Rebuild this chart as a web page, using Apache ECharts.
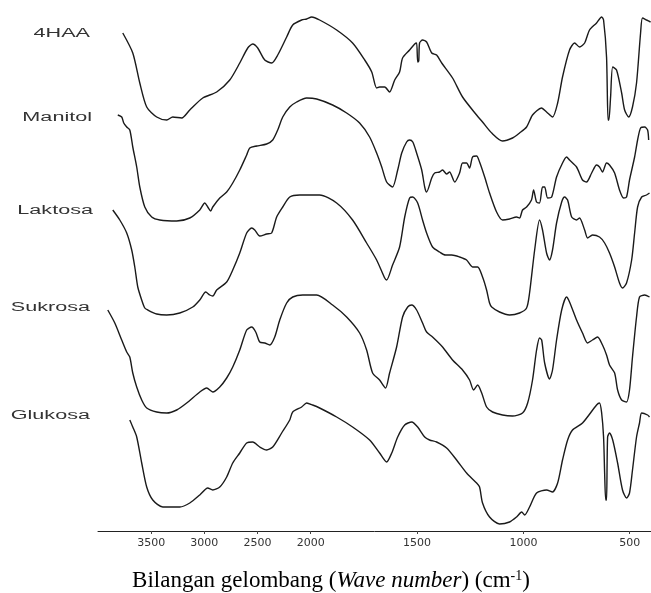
<!DOCTYPE html>
<html>
<head>
<meta charset="utf-8">
<script src="https://cdn.jsdelivr.net/npm/echarts@6/dist/echarts.min.js"></script>
<style>
html,body{margin:0;padding:0;background:#fff;}
#chart{width:651px;height:593px;}
</style>
</head>
<body>
<div id="chart"></div>
<script>
// Sample names (labels at left of each trace)
const sampleNames = ['4HAA', 'Manitol', 'Laktosa', 'Sukrosa', 'Glukosa'];
// x-axis tick labels (wavenumber, cm-1)
const tickWaves = [3500, 3000, 2500, 2000, 1500, 1000, 500];
const axisTitleParts = ['Bilangan gelombang (', 'Wave number', ') (cm', '-1', ')'];

// Traces: [wavenumber (cm-1), offset transmittance (arbitrary units)]
const trace4HAA = [
  [3767,498],[3673,478],[3607,448],[3542,424],[3448,414],[3354,411],[3297,414],[3213,413],
  [3137,421],[3015,433],[2884,439],[2761,451],[2667,468],[2592,483],[2545,487],[2498,483],
  [2432,471],[2367,468],[2310,476],[2226,494],[2169,506],[2085,511],[2038,512],[1995,514],
  [1958,511],[1878,501],[1803,488],[1746,471],[1713,459],[1690,443],[1676,444],[1652,444],
  [1629,439],[1605,451],[1582,459],[1568,473],[1535,481],[1511,487],[1502,488],[1497,469],
  [1492,470],[1488,488],[1474,491],[1455,489],[1431,478],[1408,476],[1384,468],[1333,453],
  [1286,434],[1220,416],[1192,409],[1149,398],[1098,390],[1051,393],[1018,398],[985,404],
  [957,416],[915,423],[891,419],[863,414],[839,428],[816,454],[783,481],[759,488],[736,484],
  [712,488],[689,501],[656,508],[632,514],[623,511],[609,474],[602,411],[598,411],[590,434],
  [580,464],[562,461],[538,438],[524,421],[505,414],[487,424],[468,448],[449,498],[440,513],
  [421,511],[402,509]
];
const traceManitol = [
  [3814,416],[3777,414],[3758,408],[3730,404],[3701,401],[3673,384],[3636,364],[3607,344],
  [3560,324],[3495,314],[3419,311],[3260,310],[3137,313],[3043,321],[2996,328],[2968,324],
  [2940,320],[2921,324],[2855,333],[2790,339],[2733,348],[2667,361],[2602,376],[2573,383],
  [2508,385],[2414,387],[2357,391],[2310,401],[2263,414],[2197,424],[2132,429],[2038,433],
  [1972,432],[1897,426],[1831,418],[1770,408],[1723,394],[1690,378],[1666,364],[1643,349],
  [1615,344],[1591,361],[1572,378],[1549,389],[1535,391],[1520,389],[1502,378],[1478,361],
  [1464,344],[1455,339],[1431,353],[1417,358],[1394,359],[1380,361],[1361,357],[1347,359],
  [1323,349],[1300,358],[1286,368],[1267,368],[1253,363],[1239,374],[1220,375],[1206,369],
  [1182,354],[1159,338],[1126,319],[1098,311],[1065,312],[1032,314],[1018,313],[1004,321],
  [985,324],[962,331],[952,341],[938,329],[924,328],[910,344],[900,344],[886,333],[867,334],
  [844,354],[816,368],[797,374],[783,371],[750,364],[722,351],[703,349],[679,358],[656,366],
  [642,364],[628,359],[609,368],[595,366],[571,358],[548,341],[529,333],[515,334],[501,351],
  [477,374],[463,391],[449,403],[430,404],[416,401],[411,391]
];
const traceLaktosa = [
  [3861,321],[3795,311],[3730,298],[3683,281],[3654,264],[3626,244],[3589,231],[3560,223],
  [3532,221],[3448,217],[3354,216],[3231,218],[3109,224],[3043,231],[2987,239],[2949,236],
  [2921,235],[2884,241],[2790,249],[2733,261],[2667,278],[2602,298],[2555,303],[2526,301],
  [2479,295],[2414,297],[2367,298],[2320,314],[2263,324],[2197,334],[2103,336],[1958,336],
  [1878,328],[1803,311],[1737,288],[1690,271],[1652,253],[1643,251],[1615,266],[1582,284],
  [1558,314],[1535,333],[1520,334],[1497,328],[1474,311],[1455,298],[1427,284],[1394,279],
  [1366,276],[1337,276],[1300,274],[1267,271],[1239,264],[1215,264],[1192,254],[1173,241],
  [1159,228],[1149,224],[1112,219],[1065,216],[1018,218],[985,223],[971,238],[947,281],
  [924,311],[910,301],[891,278],[877,271],[863,281],[844,308],[820,329],[806,334],[792,331],
  [773,314],[750,311],[736,313],[712,301],[698,293],[675,296],[642,294],[618,288],[595,278],
  [571,264],[548,248],[534,243],[515,248],[491,271],[477,298],[463,324],[444,334],[421,336],
  [407,338]
];
const traceSukrosa = [
  [3908,221],[3842,208],[3777,191],[3730,179],[3701,174],[3673,158],[3636,144],[3589,131],
  [3542,123],[3448,119],[3354,118],[3260,121],[3166,128],[3043,139],[2978,143],[2921,139],
  [2855,144],[2790,153],[2733,164],[2667,181],[2602,201],[2555,204],[2517,199],[2479,189],
  [2432,188],[2385,186],[2338,194],[2291,211],[2226,228],[2169,234],[2075,236],[1972,236],
  [1897,226],[1831,214],[1770,198],[1737,181],[1709,158],[1676,151],[1648,143],[1629,158],
  [1596,184],[1568,214],[1544,224],[1525,226],[1502,221],[1474,208],[1455,199],[1427,194],
  [1380,184],[1333,171],[1286,161],[1253,151],[1234,141],[1215,146],[1196,138],[1173,124],
  [1145,119],[1098,116],[1051,115],[1004,118],[980,128],[957,151],[938,181],[924,193],
  [914,191],[900,168],[877,152],[863,161],[844,191],[820,221],[797,234],[783,229],[750,211],
  [722,198],[698,188],[675,191],[651,194],[628,186],[609,176],[595,166],[571,158],[557,141],
  [538,131],[515,129],[501,141],[487,174],[468,214],[454,234],[430,236],[407,234]
];
const traceGlukosa = [
  [3701,111],[3673,104],[3636,94],[3589,68],[3542,44],[3485,31],[3391,24],[3231,24],
  [3137,28],[3043,36],[2968,43],[2921,41],[2855,44],[2790,54],[2733,68],[2667,78],[2602,88],
  [2545,89],[2479,84],[2414,81],[2357,84],[2273,98],[2197,111],[2169,119],[2085,124],
  [2038,128],[1991,126],[1958,123],[1878,114],[1803,104],[1723,91],[1676,78],[1643,69],
  [1619,78],[1591,94],[1558,106],[1525,109],[1497,104],[1464,94],[1441,91],[1408,89],
  [1361,83],[1314,71],[1267,58],[1220,48],[1206,44],[1192,28],[1159,14],[1112,7],[1065,9],
  [1032,14],[1008,19],[994,16],[971,24],[938,38],[891,41],[863,39],[839,48],[816,71],
  [792,91],[769,101],[722,108],[656,126],[642,128],[632,118],[623,94],[618,58],[613,31],
  [609,31],[604,94],[595,98],[580,91],[557,68],[534,41],[515,33],[501,38],[487,61],[468,94],
  [454,108],[444,118],[416,116],[407,114]
];
const traces = [trace4HAA, traceManitol, traceLaktosa, traceSukrosa, traceGlukosa];

// FTIR scale change at 2000 cm-1: above it the scale is compressed 2:1
function axisPos(w) { return w > 2000 ? 2000 + (w - 2000) / 2 : w; }
function fromAxis(u) { return u > 2000 ? 2000 + (u - 2000) * 2 : u; }

const chart = echarts.init(document.getElementById('chart'), null, { renderer: 'canvas' });

const labelPos = [
  { x: 90, y: 34 }, { x: 92, y: 118 }, { x: 93, y: 211 }, { x: 90, y: 308 }, { x: 90, y: 416 }
];

const graphics = sampleNames.map((name, i) => ({
  type: 'text',
  x: labelPos[i].x,
  y: labelPos[i].y,
  scaleX: 1.8,
  style: {
    text: name,
    font: '12px "Liberation Sans", Arial, sans-serif',
    fill: '#333',
    align: 'right',
    verticalAlign: 'middle'
  }
}));

graphics.push({
  type: 'text',
  x: 331,
  y: 581,
  style: {
    text: '{n|' + axisTitleParts[0] + '}{i|' + axisTitleParts[1] + '}{n|' + axisTitleParts[2] + '}{s|' + axisTitleParts[3] + '}{n|' + axisTitleParts[4] + '}',
    align: 'center',
    verticalAlign: 'middle',
    rich: {
      n: { fontFamily: '"Liberation Serif", "Times New Roman", serif', fontSize: 23, fill: '#000', color: '#000' },
      i: { fontFamily: '"Liberation Serif", "Times New Roman", serif', fontSize: 23, fontStyle: 'italic', fill: '#000', color: '#000' },
      s: { fontFamily: '"Liberation Serif", "Times New Roman", serif', fontSize: 14, fill: '#000', color: '#000', verticalAlign: 'top', padding: [0, 0, 9, 0] }
    }
  }
});

const option = {
  animation: false,
  backgroundColor: '#fff',
  grid: { left: 98, right: 0, top: 11, bottom: 62 },
  xAxis: {
    type: 'value',
    min: axisPos(400),
    max: axisPos(4000),
    inverse: true,
    splitLine: { show: false },
    axisLine: { show: true, onZero: false, lineStyle: { color: '#222', width: 1 } },
    axisTick: { show: true, length: 3, customValues: tickWaves.map(axisPos), lineStyle: { color: '#444' } },
    axisLabel: {
      customValues: tickWaves.map(axisPos),
      formatter: v => String(Math.round(fromAxis(v))),
      fontFamily: '"DejaVu Sans", sans-serif',
      fontSize: 11,
      color: '#333',
      margin: 7
    }
  },
  yAxis: { type: 'value', min: 0, max: 520, show: false },
  series: traces.map((t, i) => ({
    name: sampleNames[i],
    type: 'line',
    data: t.map(p => [axisPos(p[0]), p[1]]),
    showSymbol: false,
    smooth: 0.25,
    lineStyle: { color: '#1a1a1a', width: 1.4 }
  })),
  graphic: graphics
};
chart.setOption(option);
</script>
</body>
</html>
